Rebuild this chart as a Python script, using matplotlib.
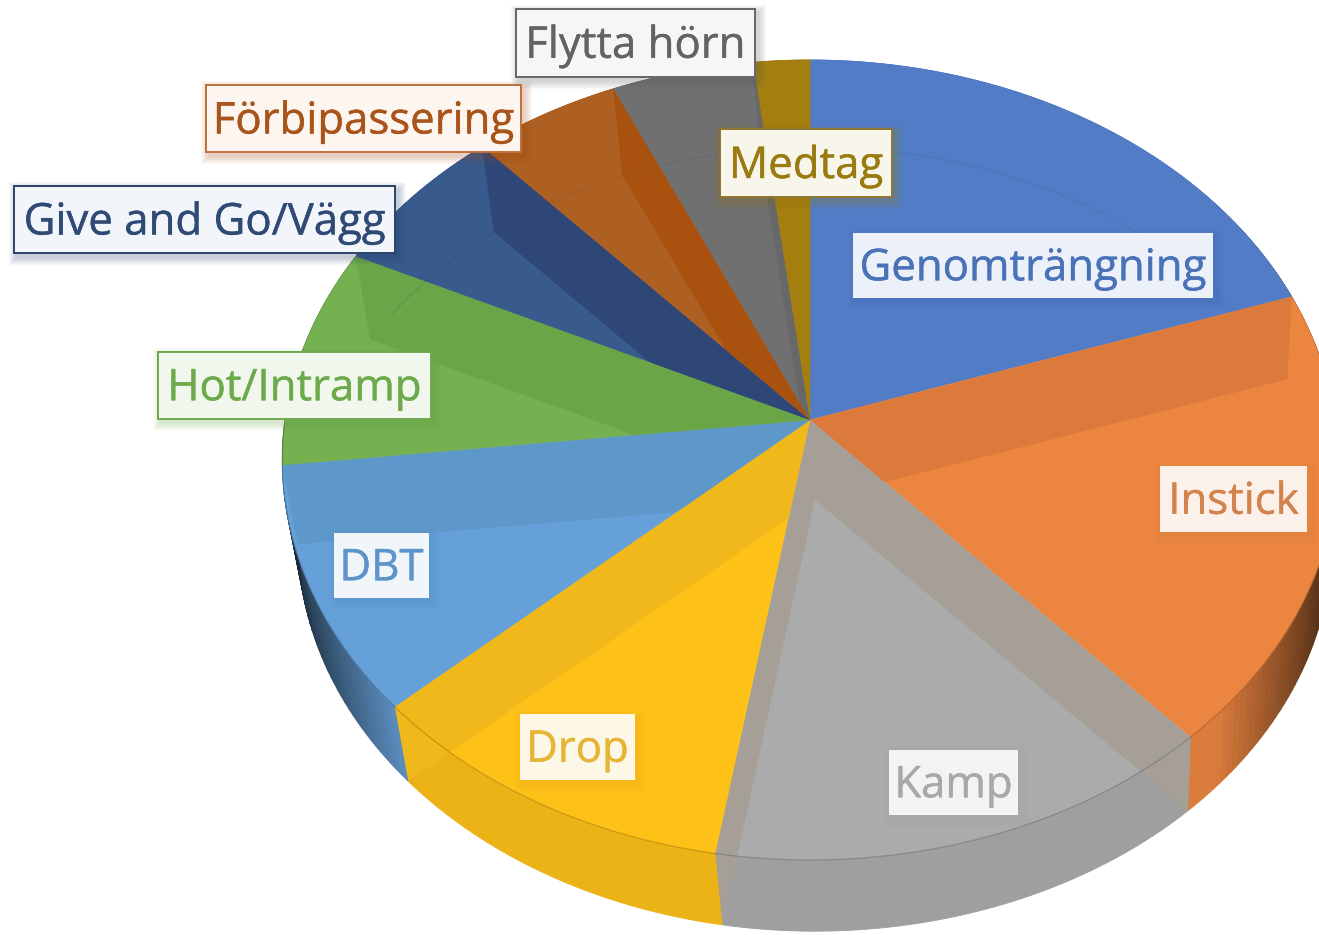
import numpy as np
import matplotlib
matplotlib.use('Agg')
import matplotlib.pyplot as plt
import matplotlib.patheffects as pe
from matplotlib.colors import to_rgb
from matplotlib.patches import Rectangle, Polygon

# ======================================
# DATA (share of the pie in percent, clockwise from 12 o'clock)
labels = ['Genomträngning', 'Instick', 'Kamp', 'Drop', 'DBT', 'Hot/Intramp',
          'Give and Go/Vägg', 'Förbipassering', 'Flytta hörn', 'Medtag']
values = [19.8, 18.5, 14.3, 10.6, 10.0, 8.9, 6.2, 5.0, 4.8, 1.9]

# ======================================
# STYLES
top_colors = ['#527CC6', '#EC8540', '#ABABAB', '#FEC118', '#66A0D8',
              '#75B150', '#385A8C', '#AE6022', '#707070', '#A57E10']
wall_colors = ['#4C74BC', '#DC7A3C', '#A59F98', '#F0B81A', '#5E98CA',
               '#6AA548', '#2F4776', '#A95210', '#686868', '#9A7510']
text_colors = ['#4A72B8', '#D4834C', '#A8A8A8', '#E6B535', '#5E94CC',
               '#6DAA4C', '#2F4A74', '#A9541A', '#636363', '#997B10']
border_colors = [None, None, None, None, None, '#70A850', '#2A4468',
                 '#C0703A', '#666666', '#8F7530']
box_faces = ['#ECF0F8', '#FBF1EA', '#F3F3F3', '#FDF7E8', '#F0F5FA',
             '#F2F7EE', '#F2F6FB', '#FDF6F0', '#F6F6F6', '#F8F5EB']
# label boxes: left, top, right, bottom in pixels
boxes = [(853, 233, 1213, 298), (1160, 466, 1307, 532), (889, 750, 1018, 815),
         (520, 714, 635, 780), (334, 533, 429, 598), (158, 352, 431, 419),
         (14, 186, 395, 253), (206, 85, 521, 152), (516, 9, 755, 77),
         (720, 129, 892, 197)]

# ======================================
# PIE GEOMETRY (slight perspective)
CX, CY, RX, RY, K = 810, 420, 525, 396, 0.1
BX, BY, BS = 815, 500, 0.98


def top(t):
    f = 1 + K * np.cos(t)
    return np.column_stack([CX + RX * np.sin(t) / f, CY - RY * np.cos(t) / f])


def bottom(t):
    p = top(t)
    return np.column_stack([BX + BS * (p[:, 0] - CX), BY + BS * (p[:, 1] - CY)])


def shade(color, s):
    return tuple(np.clip(np.array(to_rgb(color)) * s, 0, 1))


fig = plt.figure(figsize=(13.19, 9.35), dpi=100)
ax = fig.add_axes([0, 0, 1, 1])
ax.set_xlim(0, 1319)
ax.set_ylim(935, 0)
ax.axis('off')

edges = np.deg2rad(np.cumsum([0] + values) * 3.6)
n = len(values)

# ======================================
# OUTER SIDE, shaded towards the left and right edge
for i in range(n):
    ts = np.linspace(edges[i], edges[i + 1], int(np.degrees(edges[i + 1] - edges[i])) + 2)
    a, b = top(ts), bottom(ts)
    for j in range(len(ts) - 1):
        u = abs(np.sin((ts[j] + ts[j + 1]) / 2))
        s = 0.93 - 0.7 * max(0, u - 0.72) / 0.28
        quad = [a[j], a[j + 1], b[j + 1], b[j]]
        ax.add_patch(Polygon(quad, closed=True, fc=shade(top_colors[i], s),
                             ec=shade(top_colors[i], s), lw=0.6))

# ======================================
# TOP FACE
tops = []
sides = []
for i in range(n):
    ts = np.linspace(edges[i], edges[i + 1], 80)
    poly = np.vstack([[CX, CY], top(ts)])
    tops.append(poly)
    sides.append(np.vstack([top(ts), bottom(ts)[::-1]]))
    ax.add_patch(Polygon(poly, closed=True, fc=top_colors[i], ec=top_colors[i], lw=0.5))

# ======================================
# INNER WALLS, one under each cut
for i in range(n - 1):
    t = edges[i + 1]
    owner = i + 1 if t < np.pi else i
    p = top(np.array([t]))[0]
    q = bottom(np.array([t]))[0]
    wall = [(CX, CY), p, q, (BX, BY)]
    for clip in (tops[owner], sides[owner]):
        w = Polygon(wall, closed=True, fc=wall_colors[owner], ec='none')
        ax.add_patch(w)
        w.set_clip_path(Polygon(clip, closed=True, transform=ax.transData))

# ======================================
# THIN ARCS
for i in range(n):
    ts = np.linspace(edges[i], edges[i + 1], 80)
    front = np.cos(ts) < 0
    a = top(ts)
    ax.plot(a[front, 0], a[front, 1], color=shade(top_colors[i], 0.6), lw=0.9, alpha=0.5)
    b = bottom(ts)
    back = np.cos(ts) > 0.5
    ax.plot(b[back, 0], b[back, 1], color=shade(top_colors[i], 0.7), lw=1.0, alpha=0.15)

# ======================================
# LABELS
for i in range(n):
    x0, y0, x1, y1 = boxes[i]
    for g in range(8, 0, -1):
        ax.add_patch(Rectangle((x0 + 3 - g, y0 + 4 - g), x1 - x0 + 2 * g, y1 - y0 + 2 * g,
                               fc=text_colors[i], ec='none', alpha=0.035, zorder=5))
    ax.add_patch(Rectangle((x0, y0), x1 - x0, y1 - y0, fc=box_faces[i],
                           ec=border_colors[i] or 'none', lw=1.4, zorder=6))
    ax.text((x0 + x1) / 2, (y0 + y1) / 2 - 2, labels[i], color=text_colors[i],
            family='Open Sans', fontsize=31.5, ha='center', va='center_baseline', zorder=7,
            path_effects=[pe.withStroke(linewidth=0.3, foreground=text_colors[i])])

fig.savefig('out.png', dpi=100)
